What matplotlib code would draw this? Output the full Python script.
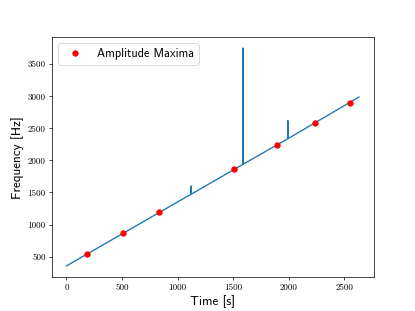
import matplotlib
matplotlib.use("Agg")
import matplotlib.pyplot as plt

# Frequency track vertices (time [s], frequency [Hz])
track_time = [0, 1118, 1121, 1123, 1125, 1585, 1587, 1588, 1590, 1989, 1991, 1992, 1994, 2630]
track_freq = [356, 1470, 1600, 1485, 1476, 1935, 3750, 2400, 1940, 2335, 2620, 2350, 2340, 2985]

# Amplitude maxima
max_time = [185, 506, 832, 1506, 1890, 2234, 2548]
max_freq = [546, 868, 1189, 1862, 2242, 2589, 2899]

xticks = [0, 500, 1000, 1500, 2000, 2500]
yticks = [500, 1000, 1500, 2000, 2500, 3000, 3500]

fig, ax = plt.subplots(figsize=(6.4, 4.8))
ax.plot(track_time, track_freq, color="#1f77b4", linewidth=1.5)
ax.plot(max_time, max_freq, "o", color="red", markersize=6, label="Amplitude Maxima")

ax.set_xticks(xticks)
ax.set_yticks(yticks)
ax.set_xticklabels([str(v) for v in xticks], fontfamily="cmr10", fontsize=10)
ax.set_yticklabels([str(v) for v in yticks], fontfamily="cmr10", fontsize=10)
ax.set_xlabel("Time [s]", fontfamily="cmss10", fontsize=14.5)
ax.set_ylabel("Frequency [Hz]", fontfamily="cmss10", fontsize=14.5)
ax.legend(loc="upper left", numpoints=1, prop={"family": "cmss10", "size": 13.5})

fig.savefig("out.png", dpi=415 / 6.4)
